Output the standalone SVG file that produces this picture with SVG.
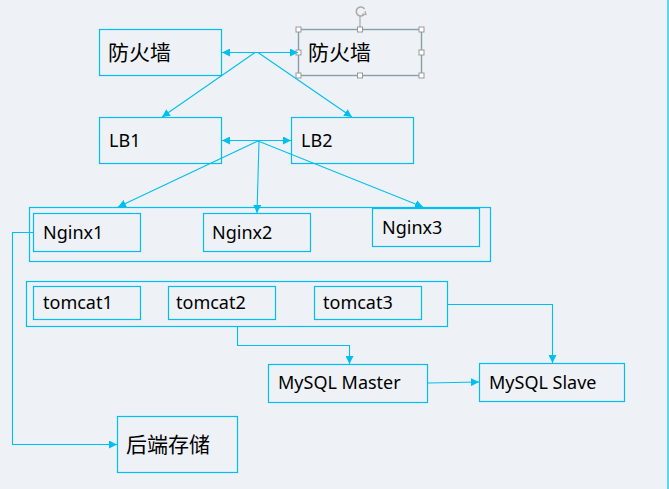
<svg xmlns="http://www.w3.org/2000/svg" width="669" height="489" viewBox="0 0 669 489">
<defs>
<marker id="ah" viewBox="0 0 10 10" refX="10" refY="5" markerWidth="8" markerHeight="8" markerUnits="userSpaceOnUse" orient="auto-start-reverse">
<path d="M0,0 L10,5 L0,10 z" fill="#00bff0"/>
</marker>
<style>
.box{fill:none;stroke:#00bff0;stroke-width:1.2}
.ln{fill:none;stroke:#00bff0;stroke-width:1.1}
.t{font-family:"Noto Sans","Open Sans","Liberation Sans",sans-serif;font-size:18px;fill:#000}
.c{font-family:"Noto Sans CJK SC","Noto Sans",sans-serif;font-size:21px;fill:#000}
.h{fill:#fff;stroke:#999;stroke-width:1}
</style>
</defs>
<rect width="669" height="489" fill="#eef2f7"/>
<line x1="668" y1="0" x2="668" y2="489" stroke="#00bff0" stroke-width="1.2"/>

<g id="fw1"><rect class="box" x="99.5" y="29.5" width="122" height="46"/><text class="c" x="108" y="59.5">防火墙</text></g>
<g id="fw2">
<rect class="box" x="298.5" y="29.5" width="123" height="46"/>
<rect x="298.5" y="29.5" width="123" height="46" fill="none" stroke="#999" stroke-width="1.2"/>
<text class="c" x="308" y="59.5">防火墙</text>
<line x1="360" y1="16" x2="360" y2="29" stroke="#999"/>
<path d="M364.5,9 A4.5,4.5 0 1 0 364.5,14" fill="none" stroke="#aaa" stroke-width="1.5"/>
<path d="M362,14 L366,14.5 L365,11" fill="none" stroke="#aaa" stroke-width="1.2"/>
<rect class="h" x="296" y="27" width="5" height="5"/>
<rect class="h" x="357.5" y="27" width="5" height="5"/>
<rect class="h" x="419" y="27" width="5" height="5"/>
<rect class="h" x="296" y="50" width="5" height="5"/>
<rect class="h" x="419" y="50" width="5" height="5"/>
<rect class="h" x="296" y="73" width="5" height="5"/>
<rect class="h" x="357.5" y="73" width="5" height="5"/>
<rect class="h" x="419" y="73" width="5" height="5"/>
</g>
<g id="lb1"><rect class="box" x="99.5" y="117.5" width="122" height="46"/><text class="t" x="109" y="147">LB1</text></g>
<g id="lb2"><rect class="box" x="291.5" y="117.5" width="122" height="46"/><text class="t" x="301" y="147">LB2</text></g>

<g id="nginx"><rect class="box" x="29.5" y="207.5" width="461" height="54"/></g>
<g id="nginx1"><rect class="box" x="33.5" y="213.5" width="107" height="38"/><text class="t" x="43" y="239">Nginx1</text></g>
<g id="nginx2"><rect class="box" x="203.5" y="213.5" width="107" height="38"/><text class="t" x="212" y="239">Nginx2</text></g>
<g id="nginx3"><rect class="box" x="372.5" y="208.5" width="107" height="38"/><text class="t" x="382" y="234">Nginx3</text></g>

<g id="tomcat"><rect class="box" x="26.5" y="281.5" width="421" height="45"/></g>
<g id="tomcat1"><rect class="box" x="33.5" y="286.5" width="107" height="33"/><text class="t" x="43" y="309">tomcat1</text></g>
<g id="tomcat2"><rect class="box" x="168.5" y="286.5" width="107" height="33"/><text class="t" x="176" y="309">tomcat2</text></g>
<g id="tomcat3"><rect class="box" x="314.5" y="286.5" width="107" height="33"/><text class="t" x="323" y="309">tomcat3</text></g>

<g id="master"><rect class="box" x="268.5" y="364.5" width="159" height="38"/><text class="t" x="278" y="389">MySQL Master</text></g>
<g id="slave"><rect class="box" x="479.5" y="363.5" width="145" height="38"/><text class="t" x="489" y="389">MySQL Slave</text></g>
<g id="storage"><rect class="box" x="117.5" y="416.5" width="120" height="56"/><text class="c" x="126" y="452">后端存储</text></g>

<g id="connectors">
<line class="ln" x1="222" y1="52.5" x2="298" y2="52.5" marker-start="url(#ah)" marker-end="url(#ah)"/>
<line class="ln" x1="255" y1="52.5" x2="162" y2="117" marker-end="url(#ah)"/>
<line class="ln" x1="258" y1="52.5" x2="352" y2="117" marker-end="url(#ah)"/>
<line class="ln" x1="222" y1="140.5" x2="291" y2="140.5" marker-start="url(#ah)" marker-end="url(#ah)"/>
<line class="ln" x1="258" y1="141" x2="118" y2="207" marker-end="url(#ah)"/>
<line class="ln" x1="259" y1="141" x2="257" y2="213" marker-end="url(#ah)"/>
<line class="ln" x1="258" y1="141" x2="423" y2="207" marker-end="url(#ah)"/>
<polyline class="ln" points="33,232.5 12.5,232.5 12.5,444.5 117,444.5" marker-end="url(#ah)"/>
<polyline class="ln" points="237.5,327 237.5,345.5 349.5,345.5 349.5,364" marker-end="url(#ah)"/>
<polyline class="ln" points="447,304.5 552.5,304.5 552.5,363" marker-end="url(#ah)"/>
<line class="ln" x1="428" y1="383" x2="479" y2="382" marker-end="url(#ah)"/>
</g>
</svg>
